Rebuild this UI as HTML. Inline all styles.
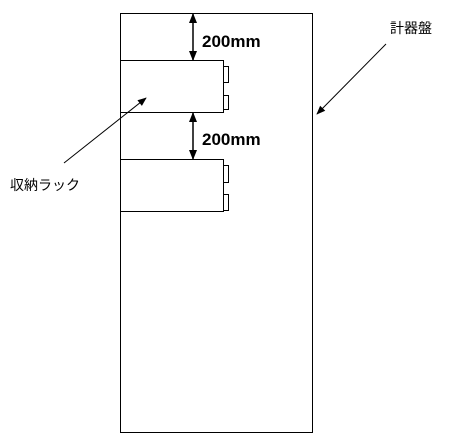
<!DOCTYPE html>
<html><head><meta charset="utf-8"><style>
html,body{margin:0;padding:0;background:#fff;width:450px;height:437px;overflow:hidden}
svg{display:block}
text{font-family:"Liberation Sans","Noto Sans CJK JP",sans-serif}
</style></head><body>
<svg width="450" height="437" viewBox="0 0 450 437">
<defs><marker id="ah" viewBox="0 0 10 10" refX="9" refY="5" markerWidth="10" markerHeight="9" orient="auto-start-reverse" markerUnits="userSpaceOnUse"><path d="M0,1 L10,5 L0,9 z" fill="#000"/></marker>
<marker id="ah2" viewBox="0 0 10 10" refX="9" refY="5" markerWidth="15" markerHeight="10" orient="auto-start-reverse" markerUnits="userSpaceOnUse"><path d="M0,1 L10,5 L0,9 z" fill="#000"/></marker></defs>
<rect x="120.5" y="13.5" width="192" height="419" fill="none" stroke="#000" stroke-width="1"/>
<g>
<rect x="120.5" y="60.5" width="103" height="52" fill="#fff" stroke="#000"/>
<rect x="223.5" y="66.5" width="5" height="16" fill="none" stroke="#000"/>
<rect x="223.5" y="95.5" width="5" height="14" fill="none" stroke="#000"/>
</g>
<g>
<rect x="120.5" y="159.5" width="103" height="52" fill="#fff" stroke="#000"/>
<rect x="223.5" y="165.5" width="5" height="17" fill="none" stroke="#000"/>
<rect x="223.5" y="194.5" width="5" height="16" fill="none" stroke="#000"/>
</g>
<line x1="193" y1="14" x2="193" y2="60" stroke="#000" stroke-width="1.5" marker-start="url(#ah2)" marker-end="url(#ah2)"/>
<text x="202" y="47" font-size="17" font-weight="bold">200mm</text>
<line x1="193" y1="113" x2="193" y2="159" stroke="#000" stroke-width="1.5" marker-start="url(#ah2)" marker-end="url(#ah2)"/>
<text x="202" y="145" font-size="17" font-weight="bold">200mm</text>
<text x="390" y="33" font-size="14">計器盤</text>
<line x1="386" y1="44" x2="317" y2="114" stroke="#000" stroke-width="1" marker-end="url(#ah)"/>
<text x="10" y="190" font-size="14">収納ラック</text>
<line x1="64" y1="163" x2="146" y2="98" stroke="#000" stroke-width="1" marker-end="url(#ah)"/>
</svg>
</body></html>
